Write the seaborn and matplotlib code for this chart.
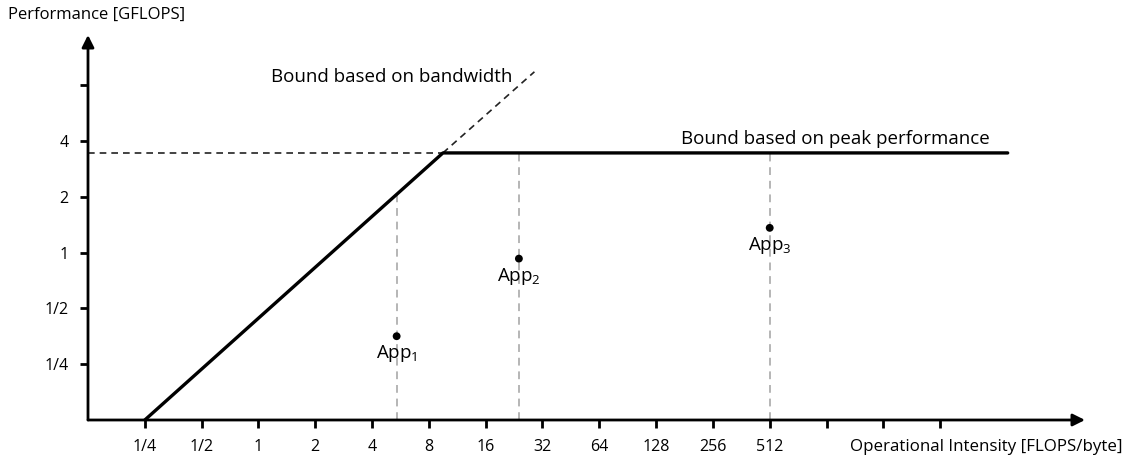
"""
Roofline model: bandwidth bound, peak performance bound and three applications.
"""

import matplotlib
matplotlib.use("Agg")
import matplotlib.pyplot as plt
import seaborn as sns
import pandas as pd

# ─────────────────────────────────────────────────────────────
# DATA
# ─────────────────────────────────────────────────────────────
roof_x = [0.25, 9.5, 9340]          # FLOPS/byte
roof_y = [0.125, 3.45, 3.45]        # GFLOPS
bw_ext_x = [9.5, 29.0]              # dashed continuation of the bandwidth bound
bw_ext_y = [3.45, 9.45]
peak_ext_x = [0.125, 9.5]           # dashed continuation of the peak bound
peak_ext_y = [3.45, 3.45]

app_names = ["App$_1$", "App$_2$", "App$_3$"]
app_x = [5.4, 24.0, 512.0]
app_y = [0.354, 0.928, 1.36]
app_drop_top = [2.05, 3.45, 3.45]

x_ticks = [0.25, 0.5, 1, 2, 4, 8, 16, 32, 64, 128, 256, 512, 1024, 2048, 4096]
x_labels = ["1/4", "1/2", "1", "2", "4", "8", "16", "32", "64", "128", "256", "512", "", "", ""]
y_ticks = [0.25, 0.5, 1, 2, 4, 8]
y_labels = ["1/4", "1/2", "1", "2", "4", ""]

X_MIN, X_MAX = 0.125, 2 ** 14.55
Y_MIN, Y_MAX = 0.125, 2 ** 3.9

sns.set_style("white")
plt.rcParams["font.family"] = ["Open Sans", "DejaVu Sans"]
plt.rcParams["mathtext.fontset"] = "custom"
plt.rcParams["mathtext.rm"] = "Open Sans"
plt.rcParams["mathtext.it"] = "Open Sans:italic"
plt.rcParams["text.color"] = "black"
plt.rcParams["xtick.color"] = "black"
plt.rcParams["ytick.color"] = "black"
plt.rcParams["axes.labelcolor"] = "black"

fig = plt.figure(figsize=(11.25, 4.55), dpi=100)
ax = fig.add_axes([88 / 1125, 35 / 455, (1085 - 88) / 1125, (420 - 35) / 455])

ax.set_xscale("log", base=2)
ax.set_yscale("log", base=2)

# drop lines for each application
for x, top in zip(app_x, app_drop_top):
    ax.plot([x, x], [Y_MIN, top], color="#b5b5b5", lw=1.4, ls=(0, (4, 3)), zorder=1)

# dashed continuations
ax.plot(bw_ext_x, bw_ext_y, color="#222222", lw=1.2, ls=(0, (4, 3)), zorder=2)
ax.plot(peak_ext_x, peak_ext_y, color="#222222", lw=1.2, ls=(0, (4, 3)), zorder=2)

# roofline
roof = pd.DataFrame({"I": roof_x, "P": roof_y})
sns.lineplot(data=roof, x="I", y="P", color="black", lw=2.4, ax=ax, zorder=3, sort=False)

# applications
apps = pd.DataFrame({"I": app_x, "P": app_y})
sns.scatterplot(data=apps, x="I", y="P", color="black", s=32, edgecolor="none", ax=ax, zorder=4)
for name, x, y in zip(app_names, app_x, app_y):
    ax.annotate(name, (x, y), xytext=(0, -5), textcoords="offset points",
                ha="center", va="top", fontsize=13.5)

ax.text(5.1, 8.9, "Bound based on bandwidth", ha="center", va="center", fontsize=13.5)
ax.text(1140, 4.1, "Bound based on peak performance", ha="center", va="center", fontsize=13.5)

ax.set_xlim(X_MIN, X_MAX)
ax.set_ylim(Y_MIN, Y_MAX)
ax.set_xticks(x_ticks)
ax.set_xticklabels(x_labels)
ax.set_yticks(y_ticks)
ax.set_yticklabels(y_labels)
ax.minorticks_off()
ax.tick_params(axis="both", which="major", bottom=True, left=True, direction="out",
               length=6, width=2, color="black", labelcolor="black",
               labelsize=11.5, pad=8)
ax.set_xlabel("")
ax.set_ylabel("")

for side in ["top", "right", "left", "bottom"]:
    ax.spines[side].set_visible(False)

# axes with arrows
ax.annotate("", xy=(1, 0), xytext=(0, 0), xycoords="axes fraction",
            arrowprops=dict(arrowstyle="-|>", lw=2, color="black",
                            mutation_scale=18, shrinkA=0, shrinkB=0))
ax.annotate("", xy=(0, 1), xytext=(0, 0), xycoords="axes fraction",
            arrowprops=dict(arrowstyle="-|>", lw=2, color="black",
                            mutation_scale=18, shrinkA=0, shrinkB=0))

fig.text(8 / 1125, 1 - 15 / 455, "Performance [GFLOPS]", ha="left", va="center", fontsize=12)
fig.text(1122 / 1125, 1 - 447 / 455, "Operational Intensity [FLOPS/byte]",
         ha="right", va="center", fontsize=12.2)

fig.savefig("out.png", dpi=100)
